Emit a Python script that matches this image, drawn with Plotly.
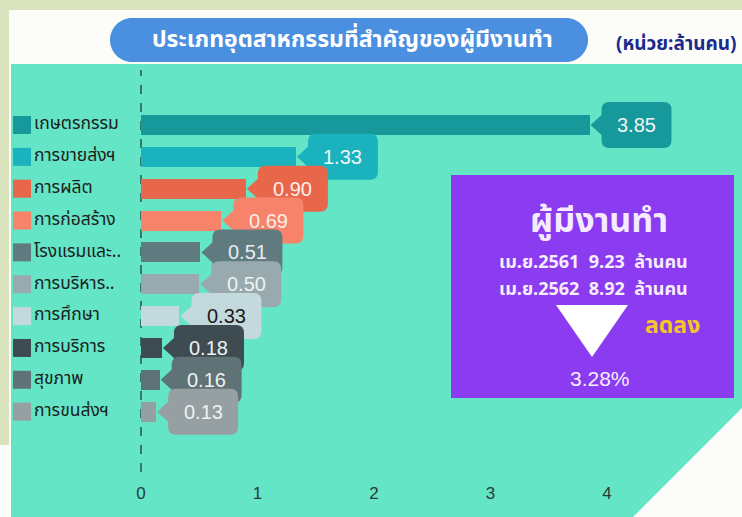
import plotly.graph_objects as go

# ---------------- data ----------------
categories = ["เกษตรกรรม", "การขายส่งฯ", "การผลิต", "การก่อสร้าง", "โรงแรมและ..",
              "การบริหาร..", "การศึกษา", "การบริการ", "สุขภาพ", "การขนส่งฯ"]
values = [3.85, 1.33, 0.90, 0.69, 0.51, 0.50, 0.33, 0.18, 0.16, 0.13]
bar_colors = ["#17999b", "#1ab2bc", "#e8664a", "#f7846a", "#607b80",
              "#98aaae", "#c4d9dc", "#3e4b50", "#5f7376", "#969fa2"]
label_colors = ["#eef7f7", "#eef7f7", "#fbeeea", "#fbeeea", "#e6eded",
                "#eef2f2", "#1a1a1a", "#eef2f2", "#eef2f2", "#eef2f2"]
x_ticks = [0, 1, 2, 3, 4]

title_text = "ประเภทอุตสาหกรรมที่สำคัญของผู้มีงานทำ"
unit_text = "(หน่วย:ล้านคน)"
box_title = "ผู้มีงานทำ"
box_line1 = "เม.ย.2561\u00a0\u00a09.23\u00a0\u00a0ล้านคน"
box_line2 = "เม.ย.2562\u00a0\u00a08.92\u00a0\u00a0ล้านคน"
box_trend = "ลดลง"
box_pct = "3.28%"

# ---------------- layout constants (pixels) ----------------
W, H = 742, 517
MB = 40
PH = H - MB
PX_PER_UNIT = 116.5
X0_PX = 141
ROW0_PX = 125
ROW_STEP = 31.85

def px(x):
    return x / W

def py(y):
    return (PH - y) / PH

def pix_path(cmds):
    """cmds: list of (letter, [(x,y),...]) in page pixels -> path relative to top-left anchor.
    Polyline points are emitted one command each (plotly converts only one pair per L)."""
    out = []
    for letter, pts in cmds:
        if letter == "Z":
            out.append("Z")
        elif letter in ("M", "L"):
            for j, (x, y) in enumerate(pts):
                cmd = letter if (letter == "L" or j == 0) else "L"
                out.append(f"{cmd} {x},{-y}")
        else:
            out.append(letter + " " + " ".join(f"{x},{-y}" for x, y in pts))
    return " ".join(out)

def deco(path, color):
    return dict(type="path", xref="paper", yref="paper", xsizemode="pixel", ysizemode="pixel",
                xanchor=0, yanchor=1, path=path, fillcolor=color, line=dict(width=0), layer="below")

THAI = "Tahoma, 'Noto Sans Thai', 'Noto Sans', 'DejaVu Sans', sans-serif"
NUM = "'Liberation Sans', Arial, sans-serif"

idx = list(range(len(categories)))

fig = go.Figure()

fig.add_trace(go.Bar(
    x=values, y=idx, orientation="h",
    marker=dict(color=bar_colors, line=dict(width=0)),
    width=20 / ROW_STEP, hoverinfo="skip", showlegend=False,
))

# legend column (squares + names) on an overlay pixel axis
fig.add_trace(go.Scatter(
    x=[22] * len(categories), y=idx, xaxis="x2", yaxis="y",
    mode="markers", marker=dict(symbol="square", size=18, color=bar_colors, line=dict(width=0)),
    hoverinfo="skip", showlegend=False, cliponaxis=False,
))
fig.add_trace(go.Scatter(
    x=[34] * len(categories), y=idx, xaxis="x2", yaxis="y",
    mode="text", text=categories, textposition="middle right",
    textfont=dict(family=THAI, size=17.5, color="#1c1c1c"),
    hoverinfo="skip", showlegend=False, cliponaxis=False,
))

shapes = []
# beige top band and left strip
shapes.append(deco(pix_path([("M", [(0, 0)]), ("L", [(742, 0), (742, 10), (9, 10), (9, 445), (0, 445)]), ("Z", [])]), "#d9e3bd"))
# turquoise panel with diagonal cut
shapes.append(deco(pix_path([("M", [(11, 64)]), ("L", [(742, 64), (742, 408), (633, 517), (11, 517)]), ("Z", [])]), "#64e5c6"))
# title pill
k = 0.5523 * 22
pill = pix_path([
    ("M", [(132, 18)]), ("L", [(566, 18)]),
    ("C", [(566 + k, 18), (588, 40 - k), (588, 40)]),
    ("C", [(588, 40 + k), (566 + k, 62), (566, 62)]),
    ("L", [(132, 62)]),
    ("C", [(132 - k, 62), (110, 40 + k), (110, 40)]),
    ("C", [(110, 40 - k), (132 - k, 18), (132, 18)]),
    ("Z", []),
])
shapes.append(deco(pill, "#4a8fe0"))
# purple summary box + down triangle
shapes.append(deco(pix_path([("M", [(451, 175)]), ("L", [(734, 175), (734, 398), (451, 398)]), ("Z", [])]), "#8b3cf0"))
shapes.append(deco(pix_path([("M", [(556, 305)]), ("L", [(628, 305), (592, 357)]), ("Z", [])]), "#ffffff"))
# dashed zero line
shapes.append(dict(type="line", xref="x", yref="paper", x0=0, x1=0, y0=py(472), y1=py(70),
                   line=dict(color="#1a3f37", width=1.3, dash="dash"), layer="below"))

# callout bubbles anchored at the bar ends
bubble = ("M 1,0 L 12,-10 L 12,-15 Q 12,-23 20,-23 L 74,-23 Q 82,-23 82,-15 "
          "L 82,15 Q 82,23 74,23 L 20,23 Q 12,23 12,15 L 12,10 Z")
annotations = []
for i, (v, c, lc) in enumerate(zip(values, bar_colors, label_colors)):
    shapes.append(dict(type="path", xref="x", yref="y", xsizemode="pixel", ysizemode="pixel",
                       xanchor=v, yanchor=i, path=bubble, fillcolor=c, line=dict(width=0)))
    annotations.append(dict(x=v, y=i, xref="x", yref="y", xshift=47, showarrow=False,
                            xanchor="center", yanchor="middle",
                            text=f"{v:.2f}", font=dict(family=NUM, size=20, color=lc)))

def ptext(x, y, text, size, color, family=THAI):
    return dict(x=px(x), y=py(y), xref="paper", yref="paper", showarrow=False,
                xanchor="center", yanchor="middle", text=text,
                font=dict(family=family, size=size, color=color))

annotations += [
    ptext(352, 40, f"<b>{title_text}</b>", 23, "#ffffff"),
    ptext(676, 45, f"<b>{unit_text}</b>", 19, "#1b2a8c"),
    ptext(599, 221, f"<b>{box_title}</b>", 34, "#f5eaff"),
    ptext(593, 262, f"<b>{box_line1}</b>", 18, "#f7eefc"),
    ptext(593, 289, f"<b>{box_line2}</b>", 18, "#f7eefc"),
    ptext(672, 326, f"<b>{box_trend}</b>", 23, "#f5c52a"),
    ptext(600, 378, box_pct, 21, "#f7eefc", NUM),
]

r_top = -ROW0_PX / ROW_STEP
r_bot = r_top + PH / ROW_STEP

fig.update_layout(
    width=W, height=H,
    margin=dict(l=0, r=0, t=0, b=MB, pad=0),
    paper_bgcolor="#fcfdf8", plot_bgcolor="rgba(0,0,0,0)",
    showlegend=False,
    shapes=shapes, annotations=annotations,
    xaxis=dict(range=[-X0_PX / PX_PER_UNIT, (W - X0_PX) / PX_PER_UNIT],
               tickvals=x_ticks, ticktext=[str(t) for t in x_ticks],
               showgrid=False, zeroline=False, showline=False,
               ticks="outside", ticklen=1, tickcolor="rgba(0,0,0,0)",
               tickfont=dict(family=NUM, size=17, color="#2a3a36"), fixedrange=True),
    xaxis2=dict(range=[0, W], overlaying="x", visible=False, fixedrange=True),
    yaxis=dict(range=[r_bot, r_top], visible=False, fixedrange=True),
    bargap=0,
)

fig.write_html("out.html", config={"displayModeBar": False},
               post_script="document.body.style.margin='0px';")
